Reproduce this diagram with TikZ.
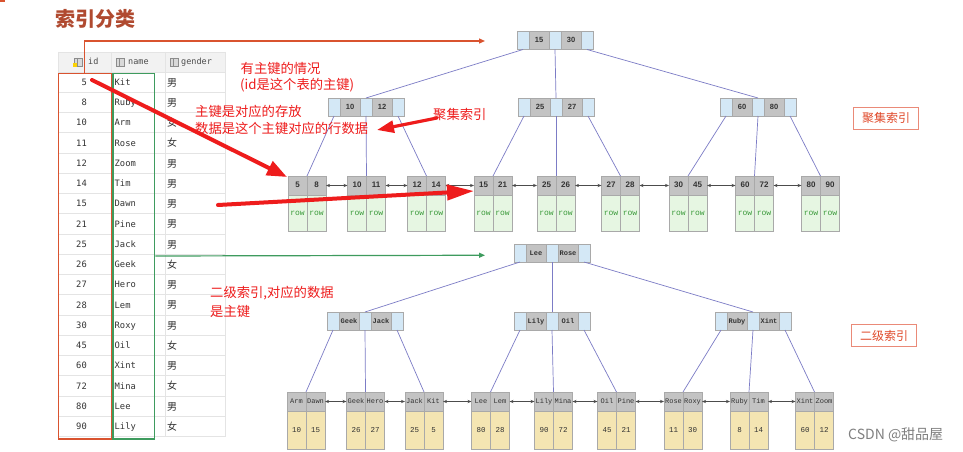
\documentclass[tikz,border=0pt]{standalone}
\usepackage{fontspec}
\setmainfont{Liberation Sans}
\newfontfamily\cjk{Noto Sans CJK SC}
\newfontfamily\tabmono{DejaVu Sans Mono}
\newfontfamily\cour{Liberation Mono}
\usetikzlibrary{arrows.meta}

\definecolor{ptrblue}{HTML}{D4E8F6}
\definecolor{keygray}{HTML}{C3C3C3}
\definecolor{cellborder}{HTML}{A9A9A9}
\definecolor{rowgreen}{HTML}{E6F6E2}
\definecolor{valyellow}{HTML}{F4E5B2}
\definecolor{linkpurple}{HTML}{7C7CC6}
\definecolor{annred}{HTML}{EE1C1C}
\definecolor{boxred}{HTML}{D9532F}
\definecolor{boxgreen}{HTML}{3E9B5E}
\definecolor{titlebrown}{HTML}{B04A30}
\definecolor{gridgray}{HTML}{E4E4E4}
\definecolor{headgray}{HTML}{F2F2F2}
\definecolor{txtgray}{HTML}{333333}
\definecolor{rowtxt}{HTML}{3A9A3A}
\definecolor{labborder}{HTML}{EA8A78}
\definecolor{labtext}{HTML}{E0492A}

\tikzset{
 cellbase/.style={draw=cellborder, line width=0.5pt, inner sep=0pt, outer sep=0pt,
   minimum height=18pt, anchor=north west, text=txtgray, text height=5.5pt, text depth=1.5pt},
 ptrcell/.style={cellbase, fill=ptrblue, minimum width=12pt},
 keycell/.style={cellbase, fill=keygray, minimum width=20pt},
 nkey/.style={font=\bfseries\fontsize{7.5}{7.5}\selectfont},
 skey/.style={font=\cour\bfseries\fontsize{7}{7}\selectfont},
 leafkey/.style={cellbase, fill=keygray, minimum width=19pt, minimum height=19pt},
 lnkey/.style={font=\bfseries\fontsize{8}{8}\selectfont},
 lskey/.style={font=\cour\fontsize{7}{7}\selectfont},
 rowcell/.style={cellbase, fill=rowgreen, minimum width=19pt, minimum height=36pt,
   text=rowtxt, font=\cour\fontsize{8}{8}\selectfont},
 valcell/.style={cellbase, fill=valyellow, minimum width=19pt, minimum height=38pt,
   font=\cour\fontsize{7.5}{7.5}\selectfont},
 link/.style={draw=linkpurple, line width=0.7pt},
 leaflink/.style={draw=black!70, line width=0.6pt,
   {Stealth[length=4pt,width=3.2pt]}-{Stealth[length=4pt,width=3.2pt]}},
 tabtxt/.style={inner sep=0pt, text=txtgray, font=\tabmono\fontsize{8.8}{8.8}\selectfont},
 tabcjk/.style={inner sep=0pt, text=txtgray, font=\cjk\fontsize{10}{10}\selectfont},
 headtxt/.style={inner sep=0pt, text=black!70, font=\tabmono\fontsize{8.5}{8.5}\selectfont},
 annot/.style={inner sep=0pt, anchor=west, text=annred, font=\cjk\fontsize{13.3}{13.3}\selectfont},
 bigarrow/.style={draw=annred, line width=4pt, line cap=round},
 labbox/.style={draw=labborder, line width=0.8pt, text=labtext, inner sep=0pt,
   minimum width=65pt, minimum height=22pt, font=\cjk\fontsize{12}{12}\selectfont},
}

\newcommand\inode[6]{%
 \node[ptrcell] (#1p1) at (#2,#3) {};
 \node[keycell,#6] (#1k1) at (#1p1.north east) {#4};
 \node[ptrcell] (#1p2) at (#1k1.north east) {};
 \node[keycell,#6] (#1k2) at (#1p2.north east) {#5};
 \node[ptrcell] (#1p3) at (#1k2.north east) {};
}
\newcommand\upleaf[4]{%
 \node[leafkey,lnkey] (#1a) at (#2,176) {#3};
 \node[leafkey,lnkey] (#1b) at (#1a.north east) {#4};
 \node[rowcell] (#1c) at (#1a.south west) {row};
 \node[rowcell] (#1d) at (#1b.south west) {row};
 \coordinate (#1) at (#1a.north east);
}
\newcommand\lowleaf[6]{%
 \node[leafkey,lskey] (#1a) at (#2,392) {#3};
 \node[leafkey,lskey] (#1b) at (#1a.north east) {#4};
 \node[valcell] (#1c) at (#1a.south west) {#5};
 \node[valcell] (#1d) at (#1b.south west) {#6};
 \coordinate (#1) at (#1a.north east);
}

\begin{document}
\begin{tikzpicture}[x=1pt,y=-1pt]
\useasboundingbox (0,0) rectangle (963,452);
\fill[white] (0,0) rectangle (963,452);
\fill[boxred] (0,0) rectangle (5,2.5);

% title
\node[anchor=west, inner sep=0pt, text=titlebrown, font=\cjk\bfseries\fontsize{20}{20}\selectfont] (title) at (55,19) {索引分类};

% table
\fill[headgray] (58,52) rectangle (225.5,72);
\draw[gridgray, line width=0.6pt] (58,52) -- (225.5,52);
\foreach \i in {0,...,18}{
  \draw[gridgray, line width=0.6pt] (58,{72+20.25*\i}) -- (225.5,{72+20.25*\i});
}
\foreach \xx in {58,111,165.5,225.5}{
  \draw[gridgray, line width=0.6pt] (\xx,52) -- (\xx,436.5);
}
% header icons
\draw[black!45, fill=black!15, line width=0.4pt] (74,58) rectangle (82,66);
\draw[black!45, line width=0.4pt] (76.7,58) -- (76.7,66);
\fill[yellow!70!orange] (73,63) rectangle (77,67);
\draw[black!45, fill=black!15, line width=0.4pt] (116,58) rectangle (124,66);
\draw[black!45, line width=0.4pt] (118.7,58) -- (118.7,66);
\draw[black!45, fill=black!15, line width=0.4pt] (170,58) rectangle (178,66);
\draw[black!45, line width=0.4pt] (172.7,58) -- (172.7,66);
\node[headtxt, anchor=base west] (hid) at (88,65) {id};
\node[headtxt, anchor=base west] (hnm) at (128,65) {name};
\node[headtxt, anchor=base west] (hg) at (181,65) {gender};

\foreach \vid/\vnm/\vg [count=\i from 0] in {5/Kit/男,8/Ruby/男,10/Arm/女,11/Rose/女,12/Zoom/男,14/Tim/男,15/Dawn/男,21/Pine/男,25/Jack/男,26/Geek/女,27/Hero/男,28/Lem/男,30/Roxy/男,45/Oil/女,60/Xint/男,72/Mina/女,80/Lee/男,90/Lily/女}{
  \node[tabtxt, anchor=base east] (tid\i) at (87,{85.3+20.25*\i}) {\vid};
  \node[tabtxt, anchor=base west] (tnm\i) at (114.5,{85.3+20.25*\i}) {\vnm};
  \node[tabcjk, anchor=base] (tg\i) at (172,{86+20.25*\i}) {\vg};
}

% column boxes
\node[draw=boxred, line width=1.5pt, inner sep=0pt, minimum width=53pt, minimum height=365.5pt, anchor=north west] (idbox) at (57.5,72.5) {};
\node[draw=boxgreen, line width=1.5pt, inner sep=0pt, minimum width=41.5pt, minimum height=365.5pt, anchor=north west] (nmbox) at (112.3,72.5) {};
\coordinate (tipA) at (485,41);
\coordinate (tipB) at (485,255.25);
\draw[boxred, line width=1.2pt, -{Triangle[length=6pt,width=5pt]}] (idbox.north) |- (tipA);
\draw[boxgreen, line width=1.2pt, -{Triangle[length=6pt,width=5pt]}] (nmbox.east) -- (tipB);

% upper tree
\inode{UR}{517}{31.5}{15}{30}{nkey}
\inode{UA}{328}{98}{10}{12}{nkey}
\inode{UB}{518}{98}{25}{27}{nkey}
\inode{UC}{720}{98}{60}{80}{nkey}
\upleaf{U1}{288}{5}{8}
\upleaf{U2}{347.5}{10}{11}
\upleaf{U3}{407.5}{12}{14}
\upleaf{U4}{474}{15}{21}
\upleaf{U5}{537}{25}{26}
\upleaf{U6}{601.5}{27}{28}
\upleaf{U7}{669}{30}{45}
\upleaf{U8}{735.5}{60}{72}
\upleaf{U9}{801.5}{80}{90}
\draw[link] (URp1.south) -- (UAp2.north);
\draw[link] (URp2.south) -- (UBp2.north);
\draw[link] (URp3.south) -- (UCp2.north);
\draw[link] (UAp1.south) -- (U1);
\draw[link] (UAp2.south) -- (U2);
\draw[link] (UAp3.south) -- (U3);
\draw[link] (UBp1.south) -- (U4);
\draw[link] (UBp2.south) -- (U5);
\draw[link] (UBp3.south) -- (U6);
\draw[link] (UCp1.south) -- (U7);
\draw[link] (UCp2.south) -- (U8);
\draw[link] (UCp3.south) -- (U9);
\foreach \pa/\pb in {U1/U2,U2/U3,U3/U4,U4/U5,U5/U6,U6/U7,U7/U8,U8/U9}{
  \draw[leaflink] (\pa b.east) -- (\pb a.west);
}

% lower tree
\inode{LR}{514}{244}{Lee}{Rose}{skey}
\inode{LA}{327}{312}{Geek}{Jack}{skey}
\inode{LB}{514}{312}{Lily}{Oil}{skey}
\inode{LC}{715}{312}{Ruby}{Xint}{skey}
\lowleaf{L1}{287}{Arm}{Dawn}{10}{15}
\lowleaf{L2}{346.5}{Geek}{Hero}{26}{27}
\lowleaf{L3}{405}{Jack}{Kit}{25}{5}
\lowleaf{L4}{471.5}{Lee}{Lem}{80}{28}
\lowleaf{L5}{534.5}{Lily}{Mina}{90}{72}
\lowleaf{L6}{597.5}{Oil}{Pine}{45}{21}
\lowleaf{L7}{664}{Rose}{Roxy}{11}{30}
\lowleaf{L8}{730}{Ruby}{Tim}{8}{14}
\lowleaf{L9}{795.5}{Xint}{Zoom}{60}{12}
\draw[link] (LRp1.south) -- (LAp2.north);
\draw[link] (LRp2.south) -- (LBp2.north);
\draw[link] (LRp3.south) -- (LCp2.north);
\draw[link] (LAp1.south) -- (L1);
\draw[link] (LAp2.south) -- (L2);
\draw[link] (LAp3.south) -- (L3);
\draw[link] (LBp1.south) -- (L4);
\draw[link] (LBp2.south) -- (L5);
\draw[link] (LBp3.south) -- (L6);
\draw[link] (LCp1.south) -- (L7);
\draw[link] (LCp2.south) -- (L8);
\draw[link] (LCp3.south) -- (L9);
\foreach \pa/\pb in {L1/L2,L2/L3,L3/L4,L4/L5,L5/L6,L6/L7,L7/L8,L8/L9}{
  \draw[leaflink] (\pa b.east) -- (\pb a.west);
}

% labels
\node[labbox] (labA) at (886,118) {聚集索引};
\node[labbox] (labB) at (884,335.5) {二级索引};

% annotations
\node[annot] (t1) at (240.5,68) {有主键的情况};
\node[annot] (t2) at (240,85) {(id是这个表的主键)};
\node[annot] (t3) at (195,111) {主键是对应的存放};
\node[annot] (t4) at (195,128) {数据是这个主键对应的行数据};
\node[annot] (t5) at (433,114) {聚集索引};
\node[annot] (t6) at (210,293) {二级索引,对应的数据};
\node[annot] (t7) at (210,311) {是主键};

\coordinate (a1s) at (92,80);
\coordinate (a1e) at (287,177);
\coordinate (a2s) at (218,205);
\coordinate (a2e) at (474,191);
\coordinate (a3s) at (437,118);
\coordinate (a3e) at (377,130);
\draw[bigarrow, -{Triangle[length=20pt,width=15pt]}] (a1s) -- (a1e);
\draw[bigarrow, -{Triangle[length=27pt,width=15pt]}] (a2s) -- (a2e);
\draw[bigarrow, line width=3.2pt, -{Triangle[length=17pt,width=12pt]}] (a3s) -- (a3e);

% watermark
\node[anchor=west, inner sep=0pt, text=black!50, font=\cjk\fontsize{14}{14}\selectfont] (wm) at (848,435) {CSDN @甜品屋};
\end{tikzpicture}
\end{document}
